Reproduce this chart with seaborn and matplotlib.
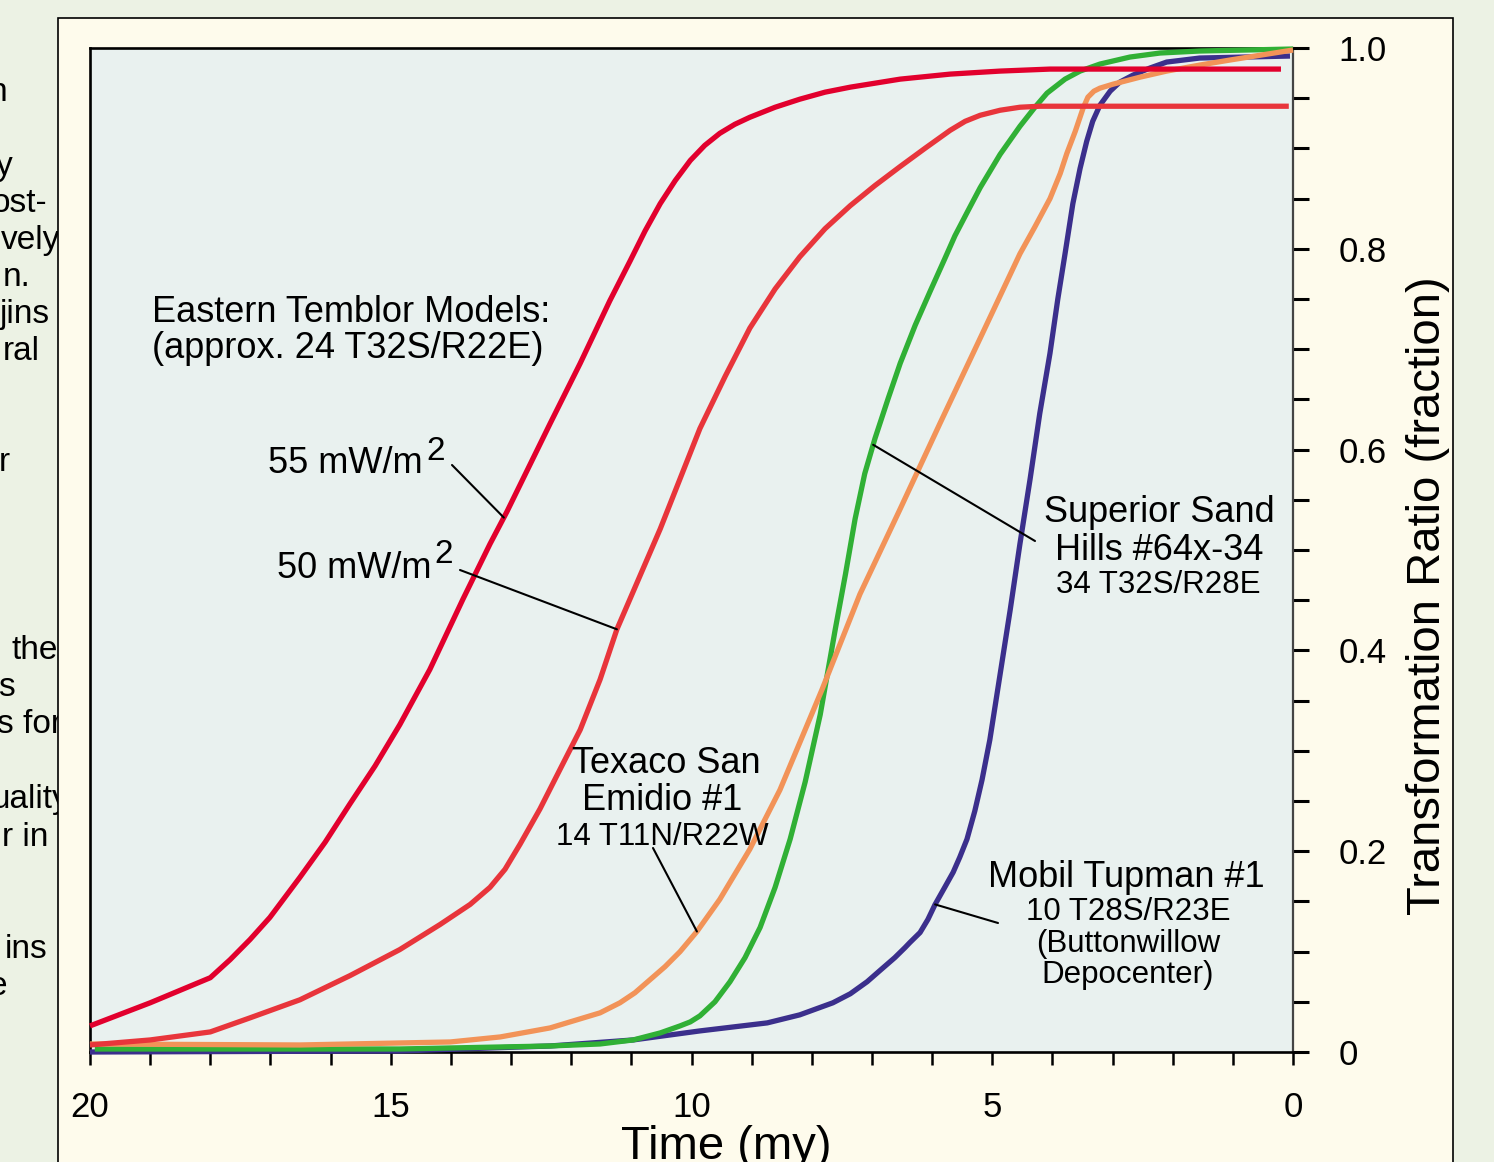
import numpy as np
import pandas as pd
import matplotlib
matplotlib.use('Agg')
import matplotlib.pyplot as plt
import seaborn as sns
from matplotlib.patches import Rectangle

# ---------------- data ----------------
time_55 = [20.00, 19.00, 18.00, 17.67, 17.34, 17.01, 16.51, 16.09, 15.68, 15.26, 14.85, 14.35,
           13.80, 13.35, 13.07, 12.35, 11.85, 11.36, 11.02, 10.77, 10.52, 10.27, 10.02, 9.78,
           9.53, 9.28, 9.03, 8.61, 8.20, 7.78, 7.36, 6.53, 5.70, 4.87, 4.04, 3.21, 0.20]
ratio_55 = [0.026, 0.049, 0.074, 0.092, 0.112, 0.134, 0.174, 0.209, 0.247, 0.285, 0.326, 0.381,
            0.451, 0.506, 0.538, 0.626, 0.686, 0.748, 0.788, 0.818, 0.845, 0.868, 0.888, 0.903,
            0.915, 0.924, 0.931, 0.941, 0.949, 0.956, 0.961, 0.969, 0.974, 0.977, 0.979, 0.979, 0.979]

time_50 = [20.00, 19.00, 18.00, 17.34, 16.51, 15.68, 14.85, 14.18, 13.68, 13.35, 13.10, 12.85,
           12.52, 12.19, 11.85, 11.52, 11.24, 10.52, 9.86, 9.44, 9.03, 8.61, 8.20, 7.78, 7.36,
           6.95, 6.53, 6.12, 5.70, 5.45, 5.20, 4.87, 4.54, 4.21, 0.07]
ratio_50 = [0.007, 0.012, 0.020, 0.034, 0.052, 0.076, 0.102, 0.127, 0.147, 0.164, 0.182, 0.207,
            0.242, 0.281, 0.321, 0.371, 0.421, 0.521, 0.621, 0.673, 0.721, 0.760, 0.792, 0.820, 0.843,
            0.863, 0.882, 0.900, 0.918, 0.927, 0.933, 0.938, 0.941, 0.942, 0.942]

time_sup = [19.92, 14.85, 12.35, 11.52, 10.97, 10.52, 10.19, 10.02, 9.86, 9.61, 9.36, 9.11, 8.86,
            8.61, 8.36, 8.11, 7.86, 7.61, 7.44, 7.28, 7.12, 6.95, 6.73, 6.53, 6.28, 6.03, 5.79,
            5.62, 5.42, 5.20, 4.87, 4.54, 4.29, 4.09, 3.79, 3.54, 3.21, 2.71, 2.21, 1.55, 0.00]
ratio_sup = [0.003, 0.003, 0.006, 0.008, 0.012, 0.019, 0.026, 0.030, 0.036, 0.050, 0.070, 0.094, 0.124,
             0.164, 0.212, 0.269, 0.336, 0.421, 0.476, 0.531, 0.576, 0.611, 0.651, 0.686, 0.724, 0.758,
             0.790, 0.813, 0.836, 0.861, 0.894, 0.922, 0.941, 0.955, 0.969, 0.977, 0.984, 0.991, 0.995,
             0.997, 0.999]

time_tex = [20.00, 16.51, 14.01, 13.18, 12.35, 11.52, 11.19, 10.94, 10.69, 10.44, 10.19, 9.91,
            9.53, 9.03, 8.53, 7.83, 7.20, 6.53, 5.87, 5.20, 4.54, 4.29, 4.04, 3.87, 3.76, 3.62,
            3.49, 3.41, 3.31, 3.21, 2.99, 2.54, 2.10, 1.55, 1.05, 0.00]
ratio_tex = [0.008, 0.007, 0.010, 0.015, 0.024, 0.039, 0.049, 0.059, 0.072, 0.085, 0.100, 0.120,
             0.152, 0.202, 0.261, 0.361, 0.456, 0.541, 0.626, 0.711, 0.795, 0.822, 0.850, 0.875, 0.895,
             0.917, 0.940, 0.951, 0.957, 0.960, 0.964, 0.971, 0.977, 0.983, 0.988, 0.998]

time_mob = [20.00, 14.85, 12.35, 10.97, 9.86, 8.74, 8.20, 7.65, 7.36, 7.08, 6.87, 6.62, 6.45,
            6.37, 6.20, 6.07, 5.95, 5.79, 5.65, 5.54, 5.42, 5.29, 5.17, 5.04, 4.87, 4.70, 4.54,
            4.37, 4.21, 4.04, 3.91, 3.79, 3.66, 3.54, 3.43, 3.33, 3.21, 3.04, 2.88, 2.66, 2.38,
            2.10, 1.55, 0.05]
ratio_mob = [0.000, 0.001, 0.006, 0.012, 0.021, 0.029, 0.037, 0.049, 0.058, 0.070, 0.081, 0.094, 0.104,
             0.109, 0.119, 0.132, 0.147, 0.164, 0.179, 0.194, 0.212, 0.240, 0.271, 0.311, 0.376, 0.441, 0.506,
             0.571, 0.636, 0.696, 0.750, 0.795, 0.845, 0.880, 0.907, 0.927, 0.943, 0.957, 0.966, 0.973, 0.980,
             0.986, 0.990, 0.992]

x_ticks = list(range(0, 21))
y_ticklabels = ['0', '0.2', '0.4', '0.6', '0.8', '1.0']

left_fragments = [("n", 7, 101), ("y", 13, 175), ("ost-", 47, 212), ("vely", 60, 249),
                  ("n.", 30, 286), ("jins", 50, 323), ("ral", 40, 360), ("r", 10, 471),
                  ("the", 58, 659), ("s", 15, 696), ("s for", 62, 733), ("uality", 70, 808),
                  ("r in", 48, 846), ("ins", 47, 958), ("e", 7, 995)]

# ---------------- style ----------------
W, H = 1494, 1162
sns.set_style('ticks')
plt.rcParams['font.family'] = ['Liberation Sans', 'DejaVu Sans']
plt.rcParams['text.color'] = 'black'
plt.rcParams['axes.labelcolor'] = 'black'
plt.rcParams['xtick.color'] = 'black'
plt.rcParams['ytick.color'] = 'black'

OUTER = '#ECF2E4'
CREAM = '#FEFBEC'
PLOTBG = '#E9F1EF'
C55 = '#E2002D'
C50 = '#E8353B'
CGREEN = '#30B035'
CORANGE = '#F29358'
CBLUE = '#3B2F8C'


def fx(px):
    return px / W


def fy(py):
    return 1 - py / H


fig = plt.figure(figsize=(W / 100, H / 100), dpi=100, facecolor=OUTER)

# cream panel
fig.patches.append(Rectangle((fx(58), -0.02), fx(1453) - fx(58), fy(18) + 0.02,
                             transform=fig.transFigure, facecolor=CREAM,
                             edgecolor='black', lw=1.2, zorder=-1))
# cut-off text of the neighbouring column
for s, xr, yb in left_fragments:
    fig.text(fx(xr), fy(yb), s, ha='right', va='baseline', fontsize=24,
             color='black', zorder=-2)

ax = fig.add_axes([fx(90), fy(1052), (1293 - 90) / W, (1052 - 48) / H])
ax.set_facecolor(PLOTBG)

series = [(time_mob, ratio_mob, CBLUE), (time_sup, ratio_sup, CGREEN),
          (time_tex, ratio_tex, CORANGE), (time_50, ratio_50, C50),
          (time_55, ratio_55, C55)]
for t, r, c in series:
    df = pd.DataFrame({'time': t, 'ratio': r})
    sns.lineplot(data=df, x='time', y='ratio', ax=ax, color=c, lw=3.8,
                 sort=False, estimator=None, zorder=3)
for ln in ax.lines:
    ln.set_clip_on(False)
    ln.set_solid_capstyle('butt')
    ln.set_solid_joinstyle('round')

ax.set_xlim(20, 0)
ax.set_ylim(0, 1)
ax.set_xlabel('')
ax.set_ylabel('')

ax.set_xticks(x_ticks)
ax.set_xticklabels([str(v) if v % 5 == 0 else '' for v in x_ticks])
yt = np.round(np.arange(0, 1.0001, 0.05), 2)
ax.set_yticks(yt)
ax.set_yticklabels([y_ticklabels[int(round(v / 0.2))] if abs(v / 0.2 - round(v / 0.2)) < 1e-6 else ''
                    for v in yt])
ax.yaxis.tick_right()
ax.tick_params(axis='x', direction='out', length=9.4, width=1.8, pad=19, labelsize=25,
               colors='black', bottom=True, top=False)
ax.tick_params(axis='y', direction='out', length=11.5, width=2.2, pad=21, labelsize=25,
               colors='black', right=True, left=False)
for side in ['left', 'top', 'bottom']:
    ax.spines[side].set_linewidth(1.9)
    ax.spines[side].set_color('black')
ax.spines['right'].set_linewidth(1.6)
ax.spines['right'].set_color('#444444')

# axis titles
fig.text(fx(726), fy(1159), 'Time (my)', ha='center', va='baseline', fontsize=34)
fig.text(fx(1440), fy(596), 'Transformation Ratio (fraction)', ha='center', va='baseline',
         rotation=90, rotation_mode='anchor', fontsize=34)

# annotations
BIG, SMALL = 26, 22.5
fig.text(fx(152), fy(322), 'Eastern Temblor Models:', ha='left', va='baseline', fontsize=BIG)
fig.text(fx(152), fy(358), '(approx. 24 T32S/R22E)', ha='left', va='baseline', fontsize=BIG)

fig.text(fx(268), fy(473), '55 mW/m', ha='left', va='baseline', fontsize=BIG)
fig.text(fx(426), fy(460), '2', ha='left', va='baseline', fontsize=24)
fig.text(fx(277), fy(578), '50 mW/m', ha='left', va='baseline', fontsize=BIG)
fig.text(fx(434), fy(563), '2', ha='left', va='baseline', fontsize=24)

fig.text(fx(666), fy(773), 'Texaco San', ha='center', va='baseline', fontsize=BIG)
fig.text(fx(662), fy(810), 'Emidio #1', ha='center', va='baseline', fontsize=BIG)
fig.text(fx(662), fy(845), '14 T11N/R22W', ha='center', va='baseline', fontsize=SMALL)

fig.text(fx(1159), fy(522), 'Superior Sand', ha='center', va='baseline', fontsize=BIG)
fig.text(fx(1159), fy(560), 'Hills #64x-34', ha='center', va='baseline', fontsize=BIG)
fig.text(fx(1158), fy(593), '34 T32S/R28E', ha='center', va='baseline', fontsize=SMALL)

fig.text(fx(1126), fy(887), 'Mobil Tupman #1', ha='center', va='baseline', fontsize=BIG)
fig.text(fx(1128), fy(920), '10 T28S/R23E', ha='center', va='baseline', fontsize=SMALL)
fig.text(fx(1128), fy(952), '(Buttonwillow', ha='center', va='baseline', fontsize=SMALL)
fig.text(fx(1128), fy(983), 'Depocenter)', ha='center', va='baseline', fontsize=SMALL)


def leader(t_at, ts, rs, start_px):
    yv = np.interp(t_at, ts[::-1], rs[::-1])
    ax.annotate('', xy=(t_at, yv), xycoords='data',
                xytext=(fx(start_px[0]), fy(start_px[1])), textcoords='figure fraction',
                arrowprops=dict(arrowstyle='-', color='black', lw=1.5,
                                shrinkA=0, shrinkB=0), zorder=4)


leader(13.12, time_55, ratio_55, (452, 465))
leader(11.24, time_50, ratio_50, (460, 570))
leader(9.91, time_tex, ratio_tex, (653, 848))
leader(6.98, time_sup, ratio_sup, (1035, 541))
leader(5.95, time_mob, ratio_mob, (998, 923))

fig.savefig('out.png', dpi=100, facecolor=OUTER)
